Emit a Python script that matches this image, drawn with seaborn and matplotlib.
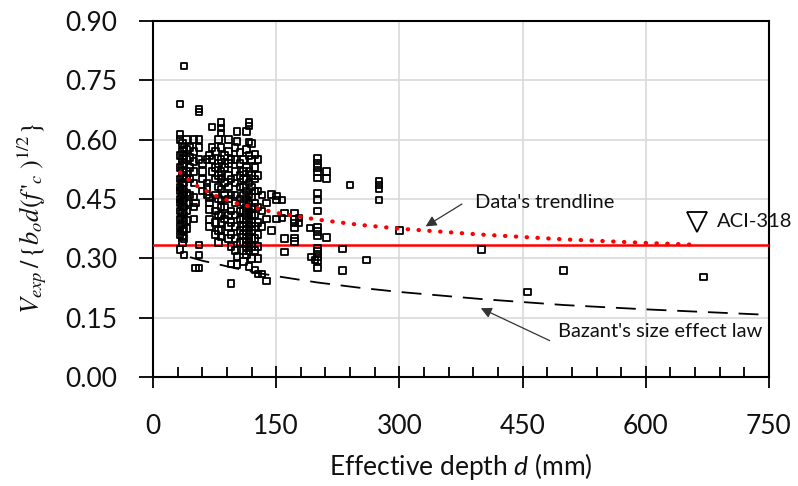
import matplotlib
matplotlib.use("Agg")
import matplotlib.pyplot as plt
import seaborn as sns
import numpy as np
import pandas as pd

# ---------------- data ----------------
col_depths = [33, 36, 38, 41, 45, 50, 52, 56, 60, 66, 69, 72, 76, 80, 83, 87, 92, 95,
              100, 102, 106, 110, 114, 117, 120, 124, 128, 133, 138, 144.5, 150.6, 157,
              160, 172, 178, 191, 193, 197, 200, 211, 231, 240, 260, 275, 300, 400,
              456, 500, 670]
col_values = [
    [0.69, 0.613, 0.60, 0.56, 0.53, 0.50, 0.48, 0.47, 0.45, 0.44, 0.42, 0.40, 0.38, 0.36, 0.322],
    [0.59, 0.57, 0.55, 0.535, 0.52, 0.505, 0.49, 0.475, 0.46, 0.445, 0.43, 0.415, 0.40, 0.385, 0.37, 0.355, 0.34],
    [0.786, 0.58, 0.56, 0.54, 0.51, 0.49, 0.47, 0.45, 0.43, 0.41, 0.39, 0.37, 0.35, 0.309],
    [0.60, 0.575, 0.55, 0.52, 0.50, 0.465, 0.44, 0.42, 0.395, 0.375],
    [0.58, 0.555, 0.53, 0.50, 0.46],
    [0.60, 0.57, 0.545, 0.52, 0.49, 0.455, 0.43, 0.40],
    [0.276, 0.44],
    [0.678, 0.670, 0.60, 0.58, 0.55, 0.334, 0.309, 0.275],
    [0.54, 0.52, 0.50, 0.47],
    [0.55, 0.49, 0.479, 0.46],
    [0.56, 0.453, 0.44, 0.423, 0.398, 0.38],
    [0.632, 0.58, 0.55, 0.52],
    [0.57, 0.53, 0.50, 0.46, 0.42, 0.39, 0.36],
    [0.60, 0.54, 0.51, 0.48, 0.45, 0.41, 0.37, 0.34],
    [0.643, 0.630, 0.617, 0.58, 0.55, 0.52, 0.50, 0.475, 0.448, 0.43, 0.41, 0.39, 0.37, 0.355],
    [0.56, 0.53, 0.49, 0.46, 0.43, 0.40],
    [0.60, 0.57, 0.54, 0.51, 0.48, 0.45, 0.41, 0.38, 0.35],
    [0.55, 0.50, 0.46, 0.42, 0.39, 0.36, 0.33, 0.286, 0.237],
    [0.58, 0.55, 0.52, 0.49, 0.46, 0.44, 0.41, 0.38, 0.35, 0.32],
    [0.621, 0.596, 0.305, 0.284],
    [0.567, 0.54, 0.51, 0.48, 0.45, 0.42, 0.40, 0.37, 0.34],
    [0.55, 0.52, 0.50, 0.48, 0.46, 0.44, 0.42, 0.40, 0.38, 0.36, 0.34, 0.32, 0.292],
    [0.62, 0.575, 0.53, 0.50, 0.47, 0.45, 0.43, 0.41, 0.39, 0.37, 0.35, 0.33, 0.31],
    [0.644, 0.634, 0.594, 0.56, 0.52, 0.49, 0.46, 0.44, 0.42, 0.40, 0.38, 0.36, 0.34, 0.32, 0.279],
    [0.59, 0.55, 0.51, 0.48, 0.455, 0.43, 0.41, 0.39, 0.37, 0.35, 0.33, 0.30],
    [0.562, 0.53, 0.50, 0.47, 0.44, 0.41, 0.38, 0.35, 0.32, 0.27],
    [0.55, 0.51, 0.47, 0.43, 0.39, 0.36, 0.33, 0.30, 0.26],
    [0.46, 0.42, 0.38, 0.26],
    [0.243, 0.40, 0.44],
    [0.461, 0.37],
    [0.457, 0.40, 0.447],
    [0.448, 0.402],
    [0.415, 0.316, 0.35],
    [0.415, 0.398, 0.389, 0.377, 0.351, 0.343],
    [0.402, 0.389],
    [0.377],
    [0.303],
    [0.296],
    [0.552, 0.540, 0.529, 0.518, 0.503, 0.465, 0.448, 0.42, 0.378, 0.368, 0.357,
     0.326, 0.317, 0.305, 0.294, 0.275],
    [0.52, 0.502, 0.353],
    [0.323, 0.269],
    [0.485],
    [0.296],
    [0.495, 0.486, 0.475, 0.448],
    [0.37],
    [0.322],
    [0.215],
    [0.269],
    [0.253],
]

# Data's trendline (red dotted)
trend_d = [33, 50, 75, 100, 150, 200, 250, 300, 400, 500, 600, 665]
trend_v = [0.517, 0.487, 0.459, 0.440, 0.415, 0.398, 0.385, 0.375, 0.360, 0.348, 0.339, 0.334]

# Bazant's size effect law (black dashed)
bazant_d = [45, 60, 75, 100, 125, 150, 200, 250, 300, 400, 500, 600, 750]
bazant_v = [0.303, 0.294, 0.287, 0.275, 0.264, 0.255, 0.239, 0.226, 0.215, 0.197, 0.182, 0.171, 0.157]

aci_v = 0.333

x_ticks = [0, 150, 300, 450, 600, 750]
y_ticks = [0.00, 0.15, 0.30, 0.45, 0.60, 0.75, 0.90]

# ---------------- build table ----------------
depth = []
ratio = []
for d, vals in zip(col_depths, col_values):
    for v in vals:
        depth.append(d)
        ratio.append(v)
df = pd.DataFrame({"d": depth, "v": ratio})

# ---------------- plot ----------------
sns.set_theme(style="white")
plt.rcParams["font.family"] = ["Lato", "DejaVu Sans"]
plt.rcParams["mathtext.fontset"] = "custom"
plt.rcParams["mathtext.rm"] = "Lato"
plt.rcParams["mathtext.it"] = "Lato:italic"

fig = plt.figure(figsize=(7.98, 4.86), dpi=100)
ax = fig.add_axes([153 / 798, 1 - 377 / 486, (769 - 153) / 798, (377 - 21) / 486])

ax.set_xlim(0, 750)
ax.set_ylim(0, 0.90)
ax.set_xticks(x_ticks)
ax.set_yticks(y_ticks)
ax.set_xticklabels([str(t) for t in x_ticks])
ax.set_yticklabels([f"{t:.2f}" for t in y_ticks])
ax.set_xticks(np.arange(0, 751, 30), minor=True)

ax.grid(True, which="major", color="#D9D9D9", lw=1.2, zorder=0)
ax.set_axisbelow(True)
for s in ax.spines.values():
    s.set_color("black")
    s.set_linewidth(1.5)

ax.tick_params(axis="x", which="major", direction="inout", length=16, width=1.3,
               color="black", pad=19, labelsize=19, labelcolor="#111111")
ax.tick_params(axis="x", which="minor", direction="in", length=7, width=1.3, color="black")
ax.tick_params(axis="y", which="major", direction="out", length=10, width=1.3,
               color="black", pad=16, labelsize=19, labelcolor="#111111")
ax.tick_params(axis="both", which="both", bottom=True, left=True, top=False, right=False)

# ACI-318 line
ax.axhline(aci_v, color="#FF0000", lw=1.8, zorder=3)

# data points
sns.scatterplot(data=df, x="d", y="v", ax=ax, marker="s", s=22, color="black",
                linewidth=1.3, zorder=4, legend=False)
coll = ax.collections[-1]
coll.set_facecolor("none")
coll.set_edgecolor("black")

# trendline
sns.lineplot(x=trend_d, y=trend_v, ax=ax, color="#FF0000", lw=3.0,
             linestyle=(0, (0.1, 2.5)), dash_capstyle="round", sort=False,
             estimator=None, zorder=5)
# Bazant
sns.lineplot(x=bazant_d, y=bazant_v, ax=ax, color="black", lw=1.3,
             linestyle=(0, (11, 6)), sort=False, estimator=None, zorder=5)

ax.set_xlabel("")
ax.set_ylabel("")

# annotations
arrow = dict(arrowstyle="-|>", color="#333333", lw=0.9, mutation_scale=16)
ax.annotate("", xy=(329, 0.377), xytext=(379, 0.441), arrowprops=arrow, zorder=6)
ax.text(392, 0.442, "Data's trendline", fontsize=14.5, va="center", ha="left", color="#111111")
ax.annotate("", xy=(396, 0.177), xytext=(486, 0.089), arrowprops=arrow, zorder=6)
ax.text(493, 0.114, "Bazant's size effect law", fontsize=14.5, va="center", ha="left",
        color="#111111")
ax.plot([662], [0.393], marker="v", ms=15, mfc="white", mec="black", mew=1.3,
        clip_on=False, zorder=6, linestyle="none")
ax.text(687, 0.393, "ACI-318", fontsize=14.5, va="center", ha="left", color="#111111",
        clip_on=False)

fig.text(32 / 798, 1 - 218 / 486,
         r"$V_{exp}\,/\,\{b_o d(f\,'_c\;)^{1/2}\}$",
         rotation=90, ha="center", va="center", fontsize=19, math_fontfamily="stix",
         color="#111111")
fig.text((153 + 769) / 2 / 798, 1 - 466 / 486, r"Effective depth $d$ (mm)",
         ha="center", va="center", fontsize=19, color="#111111")

fig.savefig("out.png", dpi=100)
